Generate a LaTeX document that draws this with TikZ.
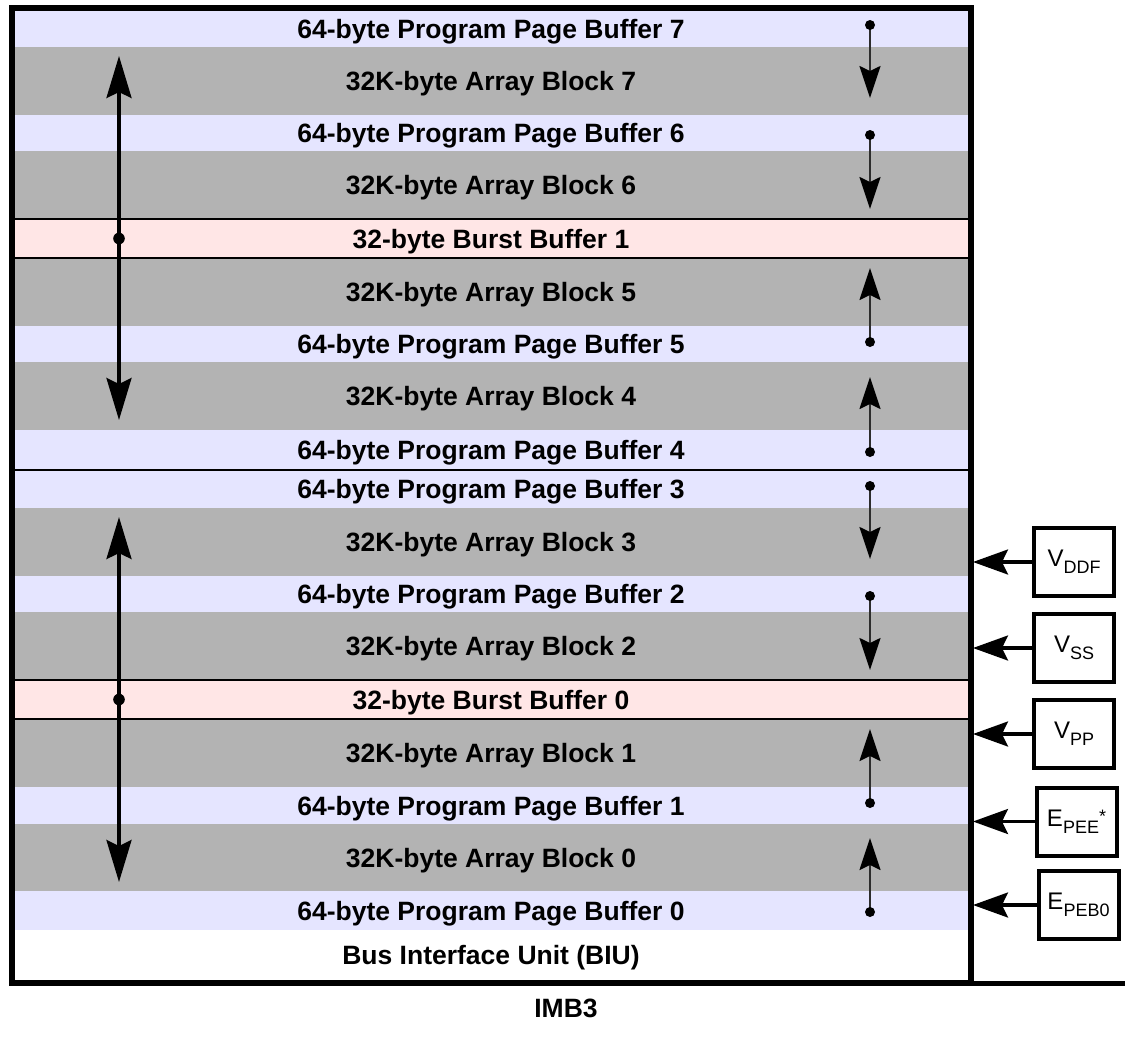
\documentclass[tikz,border=0pt]{standalone}
\usepackage{fontspec}
\setmainfont{Liberation Sans}
\usetikzlibrary{arrows.meta}
\definecolor{lav}{RGB}{229,229,255}
\definecolor{blockgray}{RGB}{179,179,179}
\definecolor{burstpink}{RGB}{255,230,230}
\definecolor{stemgray}{RGB}{45,45,45}
\newcommand\subtxt[1]{\raisebox{-7pt}{\fontsize{18}{20}\selectfont #1}}
\newcommand\suptxt[1]{\raisebox{4pt}{\fontsize{18}{20}\selectfont #1}}
\begin{document}
\begin{tikzpicture}[x=1pt,y=-1pt,
  rowbox/.style={minimum width=960pt,inner sep=0pt,anchor=center,draw=none,text depth=0pt,
    font=\fontsize{26.5}{30}\selectfont\bfseries},
  ppb/.style={rowbox,fill=lav},
  arr/.style={rowbox,fill=blockgray},
  burst/.style={rowbox,fill=burstpink},
  sepline/.style={line width=2.2pt},
  bigarr/.style={line width=3.6pt,{Stealth[length=42pt,width=25pt,inset=6pt]}-{Stealth[length=42pt,width=25pt,inset=6pt]}},
  smallarr/.style={line width=2pt,draw=stemgray,-{Stealth[length=32pt,width=21pt,inset=5pt,color=black]}},
  sidearr/.style={line width=3.2pt,-{Stealth[length=35pt,width=25pt,inset=6pt]}},
  sidebox/.style={draw,line width=4pt,minimum width=80pt,minimum height=68pt,inner sep=0pt,
    font=\fontsize{24}{28}\selectfont},
  bigdot/.style={fill=black},
]
\useasboundingbox (0,0) rectangle (1125,1039);
% rows
\node[ppb,minimum height=36pt] (p7) at (491,29) {64-byte Program Page Buffer 7};
\node[arr,minimum height=68pt] (a7) at (491,81) {32K-byte Array Block 7};
\node[ppb,minimum height=36pt] (p6) at (491,133) {64-byte Program Page Buffer 6};
\node[arr,minimum height=68pt] (a6) at (491,185) {32K-byte Array Block 6};
\node[burst,minimum height=39pt] (b1) at (491,238.5) {32-byte Burst Buffer 1};
\node[arr,minimum height=68pt] (a5) at (491,292) {32K-byte Array Block 5};
\node[ppb,minimum height=36pt] (p5) at (491,344) {64-byte Program Page Buffer 5};
\node[arr,minimum height=68pt] (a4) at (491,396) {32K-byte Array Block 4};
\node[ppb,minimum height=40pt] (p4) at (491,450) {64-byte Program Page Buffer 4};
\node[ppb,minimum height=38pt] (p3) at (491,489) {64-byte Program Page Buffer 3};
\node[arr,minimum height=68pt] (a3) at (491,542) {32K-byte Array Block 3};
\node[ppb,minimum height=36pt] (p2) at (491,594) {64-byte Program Page Buffer 2};
\node[arr,minimum height=68pt] (a2) at (491,646) {32K-byte Array Block 2};
\node[burst,minimum height=39pt] (b0) at (491,699.5) {32-byte Burst Buffer 0};
\node[arr,minimum height=68pt] (a1) at (491,753) {32K-byte Array Block 1};
\node[ppb,minimum height=37pt] (p1) at (491,805.5) {64-byte Program Page Buffer 1};
\node[arr,minimum height=67pt] (a0) at (491,857.5) {32K-byte Array Block 0};
\node[ppb,minimum height=39pt] (p0) at (491,910.5) {64-byte Program Page Buffer 0};
\node[rowbox,minimum height=50pt] (biu) at (491,955) {Bus Interface Unit (BIU)};
% separator lines
\draw[sepline] (b1.north west) -- (b1.north east);
\draw[sepline] (b1.south west) -- (b1.south east);
\draw[sepline] (p4.south west) -- (p4.south east);
\draw[sepline] (b0.north west) -- (b0.north east);
\draw[sepline] (b0.south west) -- (b0.south east);
% main frame and bottom rule
\draw[line width=6pt] (11.5,8) rectangle (971,983);
\draw[line width=4.5pt] (971,983.5) -- (1125,983.5);
\node[font=\fontsize{26.5}{30}\selectfont\bfseries] (imb) at (566,1008) {IMB3};
% left arrows
\coordinate (L1a) at (119,56);
\coordinate (L1b) at (119,420);
\coordinate (L1m) at (119,238.5);
\coordinate (L0a) at (119,517);
\coordinate (L0b) at (119,882);
\coordinate (L0m) at (119,699.5);
\draw[bigarr] (L1a) -- (L1b);
\draw[bigarr] (L0a) -- (L0b);
\fill[bigdot] (L1m) circle (5.8pt);
\fill[bigdot] (L0m) circle (5.8pt);
% right small arrows
\coordinate (R7d) at (870,25);  \coordinate (R7t) at (870,98);
\coordinate (R6d) at (870,135); \coordinate (R6t) at (870,209);
\coordinate (R5t) at (870,268); \coordinate (R5d) at (870,342);
\coordinate (R4t) at (870,377); \coordinate (R4d) at (870,452);
\coordinate (R3d) at (870,486); \coordinate (R3t) at (870,559);
\coordinate (R2d) at (870,596); \coordinate (R2t) at (870,670);
\coordinate (R1t) at (870,729); \coordinate (R1d) at (870,803);
\coordinate (R0t) at (870,838); \coordinate (R0d) at (870,912);
\foreach \n in {7,6,5,4,3,2,1,0}{
  \draw[smallarr] (R\n d) -- (R\n t);
  \fill[bigdot] (R\n d) circle (5pt);
}
% side boxes
\coordinate (redge) at (973,0);
\node[sidebox] (vddf) at (1074,562) {V\subtxt{DDF}};
\node[sidebox] (vss) at (1074,648) {V\subtxt{SS}};
\node[sidebox] (vpp) at (1074,734) {V\subtxt{PP}};
\node[sidebox] (epee) at (1076.5,821.5) {E\subtxt{PEE}\suptxt{*}};
\node[sidebox] (epeb) at (1078.5,905) {E\subtxt{PEB0}};
\foreach \b in {vddf,vss,vpp,epee,epeb}{
  \draw[sidearr] (\b.west) -- (\b.west -| redge);
}
\end{tikzpicture}
\end{document}
